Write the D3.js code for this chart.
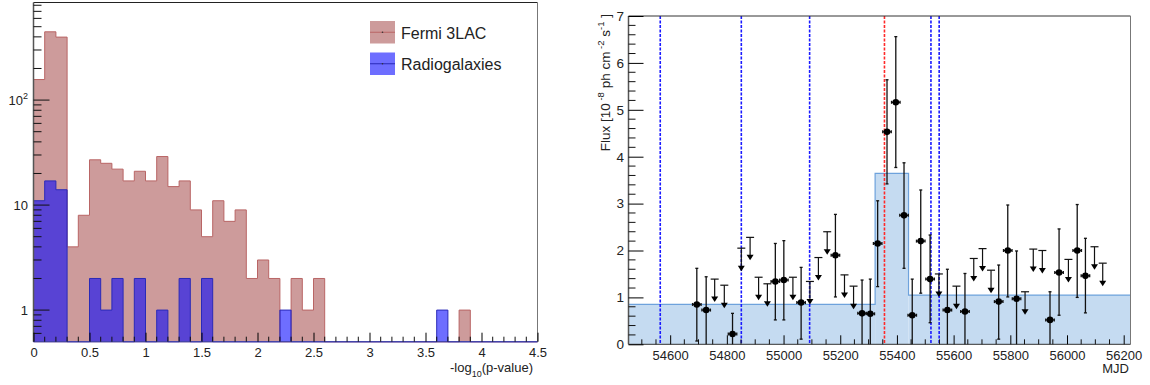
<!DOCTYPE html>
<html>
<head>
<meta charset="utf-8">
<script src="https://cdn.jsdelivr.net/npm/d3@7"></script>
<style>
  body { margin: 0; background: #fff; }
  svg { display: block; }
  text { font-family: "Liberation Sans", Arial, Helvetica, sans-serif; fill: #222; }
</style>
</head>
<body>
<svg id="chart" width="1150" height="385"></svg>
<script>
// ---- left panel: -log10(p-value) histograms (bins of 0.1 from 0 to 4.5)
const binWidth = 0.1;
const fermiCounts = [157, 447, 398, 4, 8, 27, 25, 22, 17, 21,
                     17, 29, 15, 17, 9, 5, 11, 7, 9, 2,
                     3, 2, 0, 2, 1, 2, 0, 0, 0, 0,
                     0, 0, 0, 0, 0, 0, 0, 0, 1, 0,
                     0, 0, 0, 0, 0];
const radioCounts = [11, 17, 14, 0, 0, 2, 1, 2, 0, 2,
                     0, 1, 0, 2, 0, 2, 0, 0, 0, 0,
                     0, 0, 1, 0, 0, 0, 0, 0, 0, 0,
                     0, 0, 0, 0, 0, 0, 1, 0, 0, 0,
                     0, 0, 0, 0, 0];
const histTicks = [0, 0.5, 1, 1.5, 2, 2.5, 3, 3.5, 4, 4.5];
const legendNames = ['Fermi 3LAC', 'Radiogalaxies'];

// ---- right panel: light curve
const detMjd  = [54694, 54727, 54820, 54971, 55001, 55062, 55183, 55277, 55306, 55332,
                 55365, 55396, 55425, 55454, 55484, 55517, 55578, 55640, 55759, 55791,
                 55822, 55940, 55972, 56036, 56065];
const detFlux = [0.85, 0.73, 0.22, 1.34, 1.37, 0.89, 1.90, 0.66, 0.65, 2.15,
                 4.53, 5.16, 2.75, 0.62, 2.20, 1.39, 0.73, 0.70, 0.91, 2.00,
                 0.97, 0.52, 1.53, 2.00, 1.46];
const detLow  = [0.07, 0.00, 0.00, 0.52, 0.52, 0.11, 1.01, 0.00, 0.00, 1.23,
                 3.42, 3.77, 1.62, 0.00, 1.09, 0.46, 0.00, 0.00, 0.11, 1.01,
                 0.00, 0.00, 0.62, 1.00, 0.67];
const detHigh = [1.62, 1.44, 0.66, 2.15, 2.21, 1.64, 2.77, 1.37, 1.39, 3.06,
                 5.64, 6.56, 3.87, 1.39, 3.29, 2.33, 1.60, 1.51, 1.69, 2.97,
                 1.99, 1.12, 2.46, 2.98, 2.26];
const ulMjd   = [54757, 54791, 54851, 54882, 54912, 54943, 55033, 55093, 55123, 55154,
                 55215, 55247, 55548, 55610, 55671, 55702, 55732, 55852, 55881, 55913,
                 56005, 56097, 56126];
const ulFlux  = [1.39, 1.26, 2.05, 2.28, 1.43, 1.29, 1.43, 1.34, 1.85, 2.40,
                 1.48, 1.24, 1.50, 1.24, 1.83, 2.04, 1.58, 1.12, 2.03, 2.00,
                 1.81, 2.08, 1.73];
const halfBin = 15; // days
const blockEdges = [54453, 55323, 55441, 56224];
const blockFlux  = [0.853, 3.646, 1.05];
const blueLines = [54565, 54851, 55092, 55520, 55549];
const redLines  = [55356];
const mjdTicks = [54600, 54800, 55000, 55200, 55400, 55600, 55800, 56000, 56200];
const fluxTicks = [0, 1, 2, 3, 4, 5, 6, 7];

const svg = d3.select('#chart');

// ================= left panel =================
const L = { x0: 33.5, x1: 537.5, y0: 2.5, y1: 341.7 };
const hx = d3.scaleLinear().domain([0, 4.5]).range([L.x0, L.x1]);
const hy = d3.scaleLog().domain([0.5, 850]).range([L.y1, L.y0]);

function stepPath(counts) {
  let p = `M${hx(0)},${L.y1}`;
  counts.forEach((c, i) => {
    const yy = c > 0 ? hy(c) : L.y1;
    p += `L${hx(i * binWidth)},${yy}L${hx((i + 1) * binWidth)},${yy}`;
  });
  p += `L${hx(counts.length * binWidth)},${L.y1}Z`;
  return p;
}

const left = svg.append('g');
left.append('path').attr('d', stepPath(fermiCounts))
  .attr('fill', '#cd9b9b').attr('stroke', '#b96565').attr('stroke-width', 1);
left.append('path').attr('d', stepPath(radioCounts))
  .attr('fill', 'rgba(0,0,255,0.57)').attr('stroke', '#2a2ab8').attr('stroke-width', 1);

// frame
left.append('line').attr('x1', L.x0).attr('x2', L.x1).attr('y1', L.y0).attr('y2', L.y0).attr('stroke', '#222');
left.append('line').attr('x1', L.x1).attr('x2', L.x1).attr('y1', L.y0).attr('y2', L.y1).attr('stroke', '#777');
left.append('line').attr('x1', L.x0).attr('x2', L.x0).attr('y1', L.y0).attr('y2', L.y1).attr('stroke', '#555').attr('stroke-width', 1.5);
left.append('line').attr('x1', L.x0).attr('x2', L.x1).attr('y1', L.y1).attr('y2', L.y1).attr('stroke', '#4a4aa8');

// x axis
const hxAxis = left.append('g').attr('transform', `translate(0,${L.y1})`)
  .call(d3.axisBottom(hx).tickValues(histTicks).tickSizeInner(-9).tickSizeOuter(0).tickPadding(6)
    .tickFormat(d => String(d)));
hxAxis.select('.domain').remove();
hxAxis.selectAll('text').attr('font-size', 13).attr('font-family', null).style('fill', '#222');
left.append('g').selectAll('line')
  .data(d3.range(0, 45).filter(i => i % 5 !== 0).map(i => i * binWidth))
  .join('line')
  .attr('x1', d => hx(d)).attr('x2', d => hx(d))
  .attr('y1', L.y1).attr('y2', L.y1 - 5).attr('stroke', '#111');

// y axis (log)
const majorY = [1, 10, 100];
const minorY = [0.6, 0.7, 0.8, 0.9].concat(
  d3.merge([1, 10, 100].map(b => d3.range(2, 10).map(k => k * b)))).filter(v => v < 850);
left.append('g').selectAll('line').data(majorY).join('line')
  .attr('x1', L.x0).attr('x2', L.x0 + 16).attr('y1', d => hy(d)).attr('y2', d => hy(d)).attr('stroke', '#111');
left.append('g').selectAll('line').data(minorY).join('line')
  .attr('x1', L.x0).attr('x2', L.x0 + 8).attr('y1', d => hy(d)).attr('y2', d => hy(d)).attr('stroke', '#111');
const ylab = left.append('g').attr('font-size', 13).attr('text-anchor', 'end');
ylab.append('text').attr('x', L.x0 - 5.5).attr('y', hy(1) + 5).text('1');
ylab.append('text').attr('x', L.x0 - 5.5).attr('y', hy(10) + 5).text('10');
const t100 = ylab.append('text').attr('x', L.x0 - 5.5).attr('y', hy(100) + 5);
t100.append('tspan').text('10');
t100.append('tspan').attr('font-size', 9).attr('dy', -6).text('2');

// x title
const hxt = left.append('text').attr('x', 533).attr('y', 372).attr('text-anchor', 'end').attr('font-size', 13);
hxt.append('tspan').text('-log');
hxt.append('tspan').attr('font-size', 9).attr('dy', 5).text('10');
hxt.append('tspan').attr('dy', -5).text('(p-value)');

// legend
const legFill = ['#cd9b9b', 'rgba(0,0,255,0.57)'];
const legLine = ['#b96565', '#2a2ab8'];
const leg = left.append('g');
legendNames.forEach((name, i) => {
  const yTop = 21 + i * 31.5;
  leg.append('rect').attr('x', 370).attr('y', yTop).attr('width', 25).attr('height', 22.5).attr('fill', legFill[i]);
  leg.append('line').attr('x1', 370).attr('x2', 395).attr('y1', yTop + 11.25).attr('y2', yTop + 11.25)
    .attr('stroke', legLine[i]).attr('stroke-width', 1);
  leg.append('circle').attr('cx', 382.5).attr('cy', yTop + 11.25).attr('r', 0.8).attr('fill', '#333');
  leg.append('text').attr('x', 401).attr('y', yTop + 17.5).attr('font-size', 16).text(name);
});

// ================= right panel =================
const R = { x0: 628.5, x1: 1130.5, y0: 16, y1: 344.3 };
const lx = d3.scaleLinear().domain([54453, 56224]).range([R.x0, R.x1]);
const ly = d3.scaleLinear().domain([0, 7]).range([R.y1, R.y0]);
const right = svg.append('g');

// Bayesian blocks
const blocks = blockFlux.map((f, i) => ({ a: blockEdges[i], b: blockEdges[i + 1], f }));
right.append('g').selectAll('rect').data(blocks).join('rect')
  .attr('x', d => lx(d.a)).attr('width', d => lx(d.b) - lx(d.a))
  .attr('y', d => ly(d.f)).attr('height', d => ly(0) - ly(d.f))
  .attr('fill', '#c5dbf1');
let bp = `M${lx(blockEdges[0])},${ly(blockFlux[0])}`;
blocks.forEach((d, i) => {
  if (i > 0) bp += `L${lx(d.a)},${ly(d.f)}`;
  bp += `L${lx(d.b)},${ly(d.f)}`;
});
right.append('path').attr('d', bp).attr('fill', 'none').attr('stroke', '#6ea2dc').attr('stroke-width', 1.2);

// dashed vertical lines
right.append('g').selectAll('line').data(blueLines).join('line')
  .attr('x1', d => lx(d)).attr('x2', d => lx(d)).attr('y1', R.y0).attr('y2', R.y1)
  .attr('stroke', '#1a1aff').attr('stroke-width', 1.6).attr('stroke-dasharray', '3,1.5');
right.append('g').selectAll('line').data(redLines).join('line')
  .attr('x1', d => lx(d)).attr('x2', d => lx(d)).attr('y1', R.y0).attr('y2', R.y1)
  .attr('stroke', '#ff2a2a').attr('stroke-width', 1.6).attr('stroke-dasharray', '3,1.5');

// frame
right.append('line').attr('x1', R.x0).attr('x2', R.x1).attr('y1', R.y0).attr('y2', R.y0).attr('stroke', '#333');
right.append('line').attr('x1', R.x1).attr('x2', R.x1).attr('y1', R.y0).attr('y2', R.y1).attr('stroke', '#777');
right.append('line').attr('x1', R.x0).attr('x2', R.x0).attr('y1', R.y0).attr('y2', R.y1).attr('stroke', '#555').attr('stroke-width', 1.5);
right.append('line').attr('x1', R.x0).attr('x2', R.x1).attr('y1', R.y1).attr('y2', R.y1).attr('stroke', '#333');

// x axis
const lxAxis = right.append('g').attr('transform', `translate(0,${R.y1})`)
  .call(d3.axisBottom(lx).tickValues(mjdTicks).tickSizeInner(-9).tickSizeOuter(0).tickPadding(6.5)
    .tickFormat(d3.format('d')));
lxAxis.select('.domain').remove();
lxAxis.selectAll('text').attr('font-size', 13).attr('font-family', null).style('fill', '#222');
right.append('g').selectAll('line')
  .data(d3.range(54500, 56224, 50).filter(v => v % 200 !== 0))
  .join('line')
  .attr('x1', d => lx(d)).attr('x2', d => lx(d)).attr('y1', R.y1).attr('y2', R.y1 - 5).attr('stroke', '#111');

// y axis
const lyAxis = right.append('g').attr('transform', `translate(${R.x0},0)`)
  .call(d3.axisLeft(ly).tickValues(fluxTicks).tickSizeInner(-15).tickSizeOuter(0).tickPadding(4.5)
    .tickFormat(d3.format('d')));
lyAxis.select('.domain').remove();
lyAxis.selectAll('text').attr('font-size', 13.5).attr('font-family', null).style('fill', '#222');
right.append('g').selectAll('line')
  .data(d3.range(0, 35).filter(i => i % 5 !== 0).map(i => i * 0.2))
  .join('line')
  .attr('x1', R.x0).attr('x2', R.x0 + 7).attr('y1', d => ly(d)).attr('y2', d => ly(d)).attr('stroke', '#111');

// titles
right.append('text').attr('x', 1129).attr('y', 373).attr('text-anchor', 'end').attr('font-size', 13).text('MJD');
const yt = right.append('text').attr('transform', 'translate(610,14) rotate(-90)')
  .attr('text-anchor', 'end').attr('font-size', 13.5);
yt.append('tspan').text('Flux [10');
yt.append('tspan').attr('font-size', 9.5).attr('dy', -6).text(' -8');
yt.append('tspan').attr('dy', 6).text(' ph cm');
yt.append('tspan').attr('font-size', 9.5).attr('dy', -6).text(' -2');
yt.append('tspan').attr('dy', 6).text(' s');
yt.append('tspan').attr('font-size', 9.5).attr('dy', -6).text('-1');
yt.append('tspan').attr('dy', 6).text(' ]');

// detections
const dets = detMjd.map((m, i) => ({ m, f: detFlux[i], lo: detLow[i], hi: detHigh[i] }));
const dg = right.append('g').attr('stroke', '#111').attr('stroke-width', 1.3);
dets.forEach(d => {
  const x = lx(d.m), y = ly(d.f);
  dg.append('line').attr('x1', x).attr('x2', x).attr('y1', ly(d.lo)).attr('y2', ly(d.hi));
  dg.append('line').attr('x1', x - 1.5).attr('x2', x + 1.5).attr('y1', ly(d.hi)).attr('y2', ly(d.hi));
  if (d.lo > 0) dg.append('line').attr('x1', x - 1.5).attr('x2', x + 1.5).attr('y1', ly(d.lo)).attr('y2', ly(d.lo));
  dg.append('line').attr('x1', lx(d.m - halfBin)).attr('x2', lx(d.m + halfBin)).attr('y1', y).attr('y2', y);
  dg.append('line').attr('x1', lx(d.m - halfBin)).attr('x2', lx(d.m - halfBin)).attr('y1', y - 1.5).attr('y2', y + 1.5);
  dg.append('line').attr('x1', lx(d.m + halfBin)).attr('x2', lx(d.m + halfBin)).attr('y1', y - 1.5).attr('y2', y + 1.5);
  dg.append('circle').attr('cx', x).attr('cy', y).attr('r', 3.3).attr('fill', '#000').attr('stroke', 'none');
});

// upper limits
const uls = ulMjd.map((m, i) => ({ m, f: ulFlux[i] }));
const ug = right.append('g');
uls.forEach(d => {
  const x = lx(d.m), y = ly(d.f), tip = y + 23;
  ug.append('line').attr('x1', x - 4).attr('x2', x + 4).attr('y1', y).attr('y2', y).attr('stroke', '#111').attr('stroke-width', 1.2);
  ug.append('line').attr('x1', x).attr('x2', x).attr('y1', y).attr('y2', tip - 4).attr('stroke', '#111').attr('stroke-width', 1.2);
  ug.append('path').attr('d', `M${x - 3.5},${tip - 5.5}L${x + 3.5},${tip - 5.5}L${x},${tip}Z`).attr('fill', '#000');
});
</script>
</body>
</html>
